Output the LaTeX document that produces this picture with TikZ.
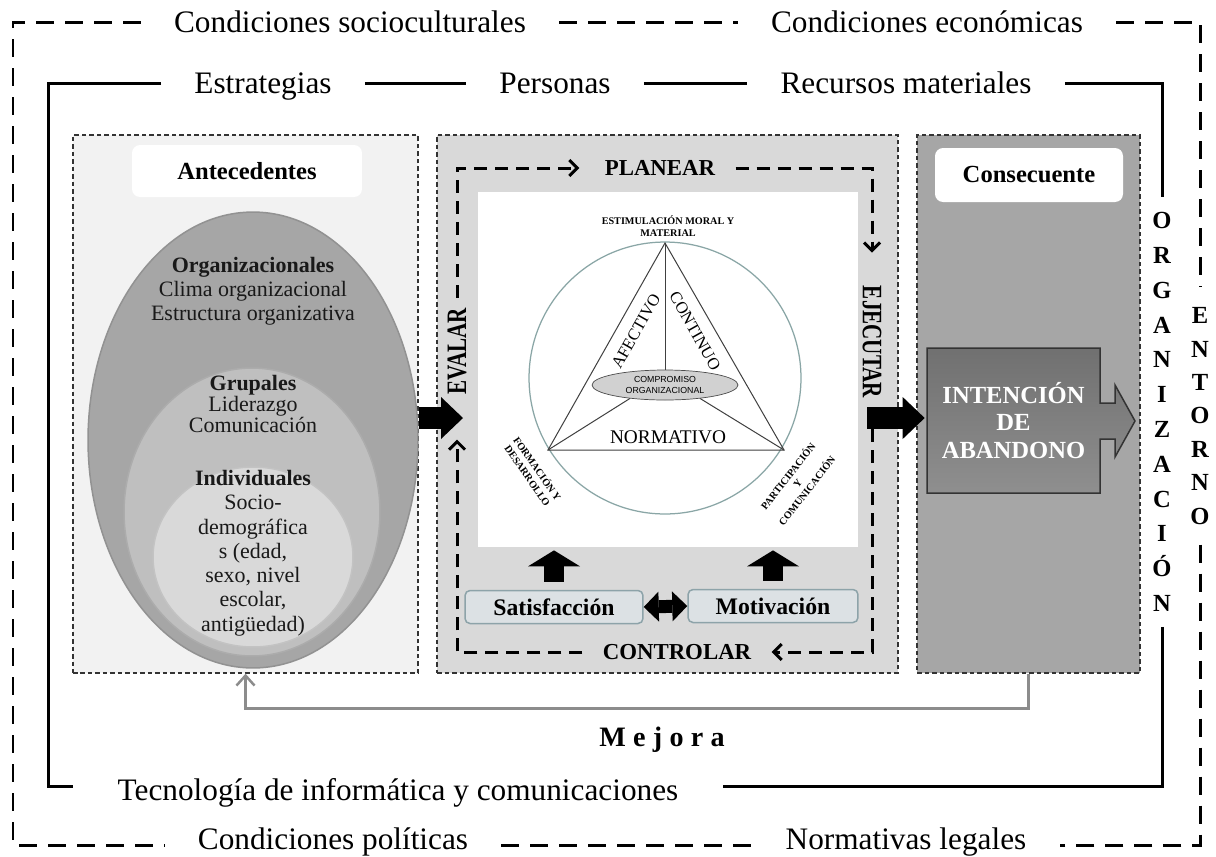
\documentclass[tikz,border=0pt]{standalone}
\usepackage{fontspec}
\setmainfont{Liberation Serif}
\newfontfamily\sansf{Liberation Sans}
\usetikzlibrary{positioning,arrows.meta,fit,shapes.geometric}

\definecolor{paneone}{HTML}{F2F2F2}
\definecolor{panetwo}{HTML}{D9D9D9}
\definecolor{panethree}{HTML}{A6A6A6}
\definecolor{ellout}{HTML}{A6A6A6}
\definecolor{ellmid}{HTML}{BFBFBF}
\definecolor{ellin}{HTML}{D9D9D9}
\definecolor{boxfill}{HTML}{DCE1E4}
\definecolor{boxline}{HTML}{8DA3A9}
\definecolor{circline}{HTML}{8AA6A6}
\definecolor{mejgray}{HTML}{8C8C8C}

\tikzset{
  entline/.style={line width=0.6mm, dash pattern=on 3.6mm off 2.2mm},
  orgline/.style={line width=0.6mm},
  flab/.style={font=\fontsize{17.8}{20}\selectfont, inner xsep=6.6mm, inner ysep=0pt, text height=12.5pt, text depth=3.9pt},
  vlet/.style={font=\fontsize{14}{19.8}\selectfont\bfseries, align=center, inner xsep=0pt},
  panel/.style={draw=black!80, line width=0.26mm, dash pattern=on 0.9mm off 0.6mm, inner sep=0pt},
  hdr/.style={fill=white, rounded corners=1.6mm, minimum width=4.6cm, minimum height=1.04cm, font=\fontsize{14}{16}\selectfont\bfseries},
  elltext/.style={align=center, font=\fontsize{12.5}{13.8}\selectfont, text=black!90},
  loopline/.style={line width=0.6mm, dash pattern=on 2.6mm off 1.6mm},
  looptip/.style={-{Straight Barb[length=1.6mm, width=3.2mm]}},
  looplab/.style={font=\fontsize{13}{15}\selectfont\bfseries, inner xsep=4mm, inner ysep=0pt},
  vlooplab/.style={font=\fontsize{16}{18}\selectfont\bfseries, inner xsep=2mm, inner ysep=0pt},
  blockarrow/.style={line width=4.4mm, -{Triangle[length=4.4mm, width=8.4mm, line width=0pt]}},
  uparrow/.style={line width=4mm, -{Triangle[length=3.2mm, width=10.4mm, line width=0pt]}, shorten <=1.6mm, shorten >=0.6mm},
  dblarrow/.style={line width=2.6mm, arrows={Triangle[length=3mm, width=6mm, line width=0pt]-Triangle[length=3mm, width=6mm, line width=0pt]}},
  fbox/.style={draw=boxline, fill=boxfill, line width=0.3mm, rounded corners=1mm, minimum height=0.66cm, font=\fontsize{13.5}{15}\selectfont\bfseries},
  tri/.style={draw=black!75, line width=0.2mm},
  tinycap/.style={font=\fontsize{5.8}{6.8}\selectfont\bfseries, align=center, inner sep=0pt},
  midcap/.style={font=\fontsize{10}{12}\selectfont, inner sep=0pt},
  mejline/.style={draw=mejgray, line width=0.5mm, -{Straight Barb[length=2mm, width=3.6mm]}},
}

\begin{document}
\begin{tikzpicture}[x=0.02cm, y=-0.02cm]
\useasboundingbox (0,0) rectangle (1216,856);

% frames
\coordinate (ent-tl) at (13,22);
\coordinate (ent-tr) at (1200,22);
\coordinate (ent-br) at (1200,845);
\coordinate (ent-bl) at (13,845);
\coordinate (org-tl) at (48,83);
\coordinate (org-tr) at (1162,83);
\coordinate (org-br) at (1162,786);
\coordinate (org-bl) at (48,786);

\node[flab] (socio) at (350,25) {Condiciones socioculturales};
\node[flab] (econ) at (927,25) {Condiciones económicas};
\node[flab] (politicas) at (333,842) {Condiciones políticas};
\node[flab] (legales) at (906,842) {Normativas legales};
\node[vlet, inner ysep=4mm, font=\fontsize{14}{19}\selectfont\bfseries] (entorno) at (1200,416) {E\\N\\T\\O\\R\\N\\O};

\node[flab] (estrat) at (263,86) {Estrategias};
\node[flab] (personas) at (555,86) {Personas};
\node[flab] (recursos) at (906,86) {Recursos materiales};
\node[flab, inner xsep=8.8mm] (tecno) at (398,793) {Tecnología de informática y comunicaciones};
\node[vlet, inner ysep=3mm] (orga) at (1162,412) {O\\R\\G\\A\\N\\I\\Z\\A\\C\\I\\Ó\\N};

\draw[entline] (socio.west |- ent-tl) -- (ent-tl) -- (ent-bl) -- (politicas.west |- ent-bl);
\draw[entline] (socio.east |- ent-tl) -- (econ.west |- ent-tl);
\draw[entline] (econ.east |- ent-tr) -- (ent-tr) -- (entorno.north);
\draw[entline] (entorno.south) -- (ent-br) -- (legales.east |- ent-br);
\draw[entline] (politicas.east |- ent-bl) -- (legales.west |- ent-bl);

\draw[orgline] (estrat.west |- org-tl) -- (org-tl) -- (org-bl) -- (tecno.west |- org-bl);
\draw[orgline] (estrat.east |- org-tl) -- (personas.west |- org-tl);
\draw[orgline] (personas.east |- org-tl) -- (recursos.west |- org-tl);
\draw[orgline] (recursos.east |- org-tr) -- (org-tr) -- (orga.north);
\draw[orgline] (orga.south) -- (org-br) -- (tecno.east |- org-br);

% panels
\node[panel, fill=paneone, fit={(73,135) (418,673)}] (ante) {};
\node[panel, fill=panetwo, fit={(437,135) (898,673)}] (proc) {};
\node[panel, fill=panethree, fit={(917,135) (1140,673)}] (conse) {};

\node[hdr] (antehdr) at (247,171) {Antecedentes};
\node[hdr, minimum width=3.76cm, minimum height=1.08cm] (consehdr) at (1029,175) {Consecuente};

\fill[ellout, draw=ellout!88!black, line width=0.3mm] (253,440) ellipse [x radius=3.3cm, y radius=4.56cm];
\fill[ellmid, draw=ellmid!90!black, line width=0.3mm] (252,512) ellipse [x radius=2.56cm, y radius=2.88cm];
\fill[ellin, draw=ellin!90!black, line width=0.3mm] (253,557) ellipse [x radius=2cm, y radius=1.8cm];

\node[elltext] (orgtxt) at (253,291) {\textbf{Organizacionales}\\Clima organizacional\\Estructura organizativa};
\node[elltext, font=\fontsize{12.5}{12}\selectfont] (grptxt) at (253,404) {\textbf{Grupales}\\Liderazgo\\Comunicación};
\node[elltext] (indtxt) at (253,553) {\textbf{Individuales}\\Socio-\\demográfica\\s (edad,\\sexo, nivel\\escolar,\\antigüedad)};

% PDCA loop
\node[fill=white, inner sep=0pt, fit={(478,192) (858,547)}] (modelo) {};
\coordinate (lp-tl) at (457,168);
\coordinate (lp-tr) at (872,168);
\coordinate (lp-br) at (872,652);
\coordinate (lp-bl) at (457,652);
\node[looplab] (planear) at (660,168) {PLANEAR};
\node[looplab] (controlar) at (677,652) {CONTROLAR};
\node[vlooplab, rotate=90] (evalar) at (457,351) {\scalebox{0.75}[1]{EVALAR}};
\node[vlooplab, rotate=-90] (ejecutar) at (872,342) {\scalebox{0.75}[1]{EJECUTAR}};

\draw[loopline, looptip, shorten >=1mm] (evalar.east) -- (lp-tl) -- (planear.west);
\draw[loopline, looptip, shorten >=4.6mm] (planear.east) -- (lp-tr) -- (ejecutar.west);
\draw[loopline, looptip] (ejecutar.east) -- (lp-br) -- (controlar.east);
\draw[loopline, looptip, shorten >=7mm] (controlar.west) -- (lp-bl) -- (evalar.west);

% compromiso
\coordinate (tA) at (665,243);
\coordinate (tL) at (548,450);
\coordinate (tR) at (784,450);
\draw[circline, line width=0.25mm] (665,378) circle [radius=2.72cm];
\draw[tri] (tA) -- (tL) -- (tR) -- cycle;
\node[draw=black!70, fill=black!18, ellipse, minimum width=2.92cm, minimum height=0.6cm, inner sep=0pt, align=center, font=\sansf\fontsize{5}{6}\selectfont] (comp) at (665,385) {COMPROMISO\\ORGANIZACIONAL};
\draw[tri] (tA) -- (comp.north);
\draw[tri] (comp.201) -- (tL);
\draw[tri] (comp.339) -- (tR);

\node[tinycap] (estim) at (668,226) {ESTIMULACIÓN MORAL Y\\MATERIAL};
\node[midcap, font=\fontsize{9.5}{11}\selectfont, rotate=60.5] (afect) at (636,331) {AFECTIVO};
\node[midcap, font=\fontsize{9.5}{11}\selectfont, rotate=-60.5] (contin) at (695,331) {CONTINUO};
\node[midcap, font=\fontsize{11}{12}\selectfont] (norma) at (668,437) {NORMATIVO};
\node[tinycap, rotate=-55] (forma) at (533,472) {FORMACIÓN Y\\DESARROLLO};
\node[tinycap, rotate=52] (partic) at (797,483) {PARTICIPACIÓN\\Y\\COMUNICACIÓN};

\node[fbox, minimum width=3.56cm] (satis) at (554,607) {Satisfacción};
\node[fbox, minimum width=3.4cm] (motiv) at (773,606) {Motivación};
\draw[dblarrow] (satis.east) -- (motiv.west);
\draw[uparrow] (satis.north) -- (satis.north |- modelo.south);
\draw[uparrow] (motiv.north) -- (motiv.north |- modelo.south);

% consecuente
\draw[draw=black!80, line width=0.3mm, top color=black!56, bottom color=black!44]
  (927,348) -- (1100,348) -- (1100,403) -- (1115,403) -- (1115,385) -- (1135,421)
  -- (1115,457) -- (1115,439) -- (1100,439) -- (1100,493) -- (927,493) -- cycle;
\node[minimum width=3.46cm, minimum height=2.9cm, inner sep=0pt, align=center, text=white, font=\fontsize{14}{15.9}\selectfont\bfseries] (intent) at (1013.5,420.5) {INTENCIÓN\\DE\\ABANDONO};

\coordinate (a1tip) at (463,418);
\coordinate (a2tail) at (867,418);
\draw[blockarrow] (ante.east |- a1tip) -- (a1tip);
\draw[blockarrow, shorten >=0.4mm] (a2tail) -- (intent.west |- a2tail);

% mejora
\draw[mejline] (conse.south) -- ++(0,35) -| (ante.south);
\node[font=\fontsize{16}{18}\selectfont\bfseries\addfontfeature{LetterSpace=26}] (mejora) at (662,740) {Mejora};
\end{tikzpicture}
\end{document}
